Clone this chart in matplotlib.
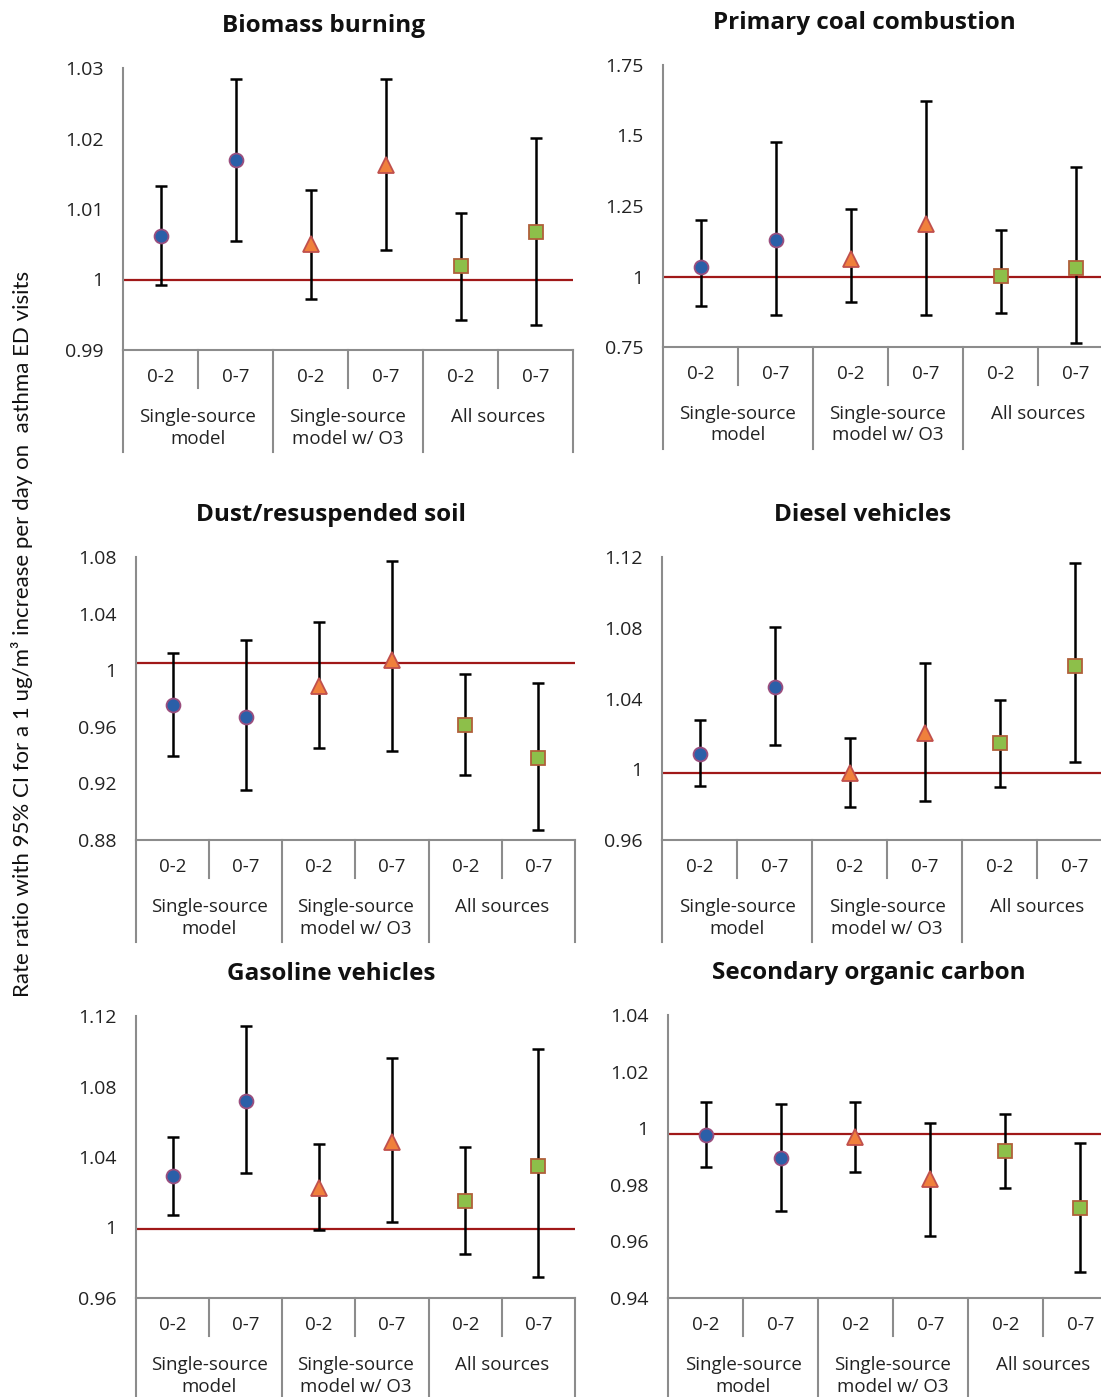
import numpy as np
import matplotlib
matplotlib.use("Agg")
import matplotlib.pyplot as plt

W, H = 1101, 1397
DPI = 100

plt.rcParams['font.family'] = ['Open Sans', 'DejaVu Sans']

titles = ["Biomass burning", "Primary coal combustion", "Dust/resuspended soil",
          "Diesel vehicles", "Gasoline vehicles", "Secondary organic carbon"]
lags = ["0-2", "0-7", "0-2", "0-7", "0-2", "0-7"]
groups = ["Single-source\nmodel", "Single-source\nmodel w/ O3", "All sources"]

# rate ratio and 95% CI, order: single 0-2, single 0-7, w/ O3 0-2, w/ O3 0-7, all 0-2, all 0-7
biomass_rr = [1.0062, 1.0169, 1.0050, 1.0162, 1.0019, 1.0068]
biomass_lo = [0.9992, 1.0054, 0.9973, 1.0042, 0.9943, 0.9936]
biomass_hi = [1.0132, 1.0285, 1.0127, 1.0285, 1.0095, 1.0201]

coal_rr = [1.035, 1.130, 1.062, 1.185, 1.003, 1.031]
coal_lo = [0.894, 0.865, 0.910, 0.863, 0.870, 0.764]
coal_hi = [1.199, 1.478, 1.241, 1.621, 1.165, 1.389]

dust_rr = [0.9755, 0.9666, 0.9885, 1.0074, 0.9614, 0.9383]
dust_lo = [0.9394, 0.9154, 0.9451, 0.9430, 0.9260, 0.8871]
dust_hi = [1.0125, 1.0210, 1.0338, 1.0774, 0.9975, 0.9913]

diesel_rr = [1.0089, 1.0464, 0.9980, 1.0206, 1.0146, 1.0585]
diesel_lo = [0.9907, 1.0137, 0.9788, 0.9822, 0.9897, 1.0040]
diesel_hi = [1.0281, 1.0805, 1.0178, 1.0598, 1.0394, 1.1168]

gasoline_rr = [1.0292, 1.0716, 1.0224, 1.0485, 1.0149, 1.0347]
gasoline_lo = [1.0069, 1.0309, 0.9984, 1.0031, 0.9848, 0.9719]
gasoline_hi = [1.0515, 1.1145, 1.0476, 1.0964, 1.0457, 1.1013]

soc_rr = [0.9975, 0.9893, 0.9970, 0.9820, 0.9919, 0.9717]
soc_lo = [0.9863, 0.9707, 0.9846, 0.9620, 0.9790, 0.9491]
soc_hi = [1.0093, 1.0086, 1.0093, 1.0020, 1.0049, 0.9947]

# y axis (min, max, step) and the reference line level per panel
y_ranges = [(0.99, 1.03, 0.01), (0.75, 1.75, 0.25), (0.88, 1.08, 0.04),
            (0.96, 1.12, 0.04), (0.96, 1.12, 0.04), (0.94, 1.04, 0.02)]
ref_lines = [1.0, 1.0, 1.005, 0.998, 0.999, 0.998]

panels = [
    (biomass_rr, biomass_lo, biomass_hi),
    (coal_rr, coal_lo, coal_hi),
    (dust_rr, dust_lo, dust_hi),
    (diesel_rr, diesel_lo, diesel_hi),
    (gasoline_rr, gasoline_lo, gasoline_hi),
    (soc_rr, soc_lo, soc_hi),
]

# plot boxes in pixels: left, top, width, height
boxes = [(123, 68, 450, 282), (663, 65, 450, 282),
         (136, 557, 439, 283), (662, 557, 450, 283),
         (136, 1016, 439, 282), (668, 1015, 450, 283)]

styles = [
    dict(marker='o', ms=10, mfc='#2b5fa8', mec='#9a4e7e'),
    dict(marker='o', ms=10, mfc='#2b5fa8', mec='#9a4e7e'),
    dict(marker='^', ms=11, mfc='#f0803c', mec='#c0504d'),
    dict(marker='^', ms=11, mfc='#f0803c', mec='#c0504d'),
    dict(marker='s', ms=10, mfc='#8dbf4a', mec='#b0603a'),
    dict(marker='s', ms=10, mfc='#8dbf4a', mec='#b0603a'),
]

GRAY = '#8c8c8c'
fig = plt.figure(figsize=(W / DPI, H / DPI), dpi=DPI)

for k, (l, t, w, h) in enumerate(boxes):
    rr, lo, hi = (np.array(a) for a in panels[k])
    ymin, ymax, step = y_ranges[k]
    ax = fig.add_axes([l / W, 1 - (t + h) / H, w / W, h / H])
    x = np.arange(6)

    ax.axhline(ref_lines[k], color='#a01818', lw=1.6, zorder=1)
    ax.errorbar(x, rr, yerr=[rr - lo, hi - rr], fmt='none', ecolor='black',
                elinewidth=1.8, capsize=4.5, capthick=1.8, zorder=2)
    for i in range(6):
        ax.plot(x[i], rr[i], ls='none', mew=1.3, zorder=3, **styles[i])

    ax.set_xlim(-0.5, 5.5)
    ax.set_ylim(ymin, ymax)
    ticks = np.arange(ymin, ymax + step / 2, step)
    ax.set_yticks(ticks)
    ax.set_yticklabels([f"{round(v, 3):g}" for v in ticks])
    ax.tick_params(axis='y', length=0, pad=14, labelsize=14, labelcolor='#222222')
    ax.set_xticks([])
    for s in ('top', 'right'):
        ax.spines[s].set_visible(False)
    for s in ('left', 'bottom'):
        ax.spines[s].set_color(GRAY)
        ax.spines[s].set_linewidth(1.5)

    # two-level category axis drawn below the plot
    tr = ax.get_xaxis_transform()
    short, long_ = 38 / h, 102 / h
    for b in range(7):
        depth = long_ if b % 2 == 0 else short
        ax.plot([b - 0.5, b - 0.5], [0, -depth], color=GRAY, lw=1.5,
                transform=tr, clip_on=False)
    for i, lab in enumerate(lags):
        ax.text(i, -27 / h, lab, transform=tr, ha='center', va='center',
                fontsize=13.5, color='#222222')
    for g, lab in enumerate(groups):
        ax.text(2 * g + 0.5, -58 / h, lab, transform=tr, ha='center', va='top',
                fontsize=13.5, color='#222222', linespacing=1.25)

    ax.text(0.5 - 24 / w, 1 + 42 / h, titles[k], transform=ax.transAxes,
            ha='center', va='center', fontsize=17.5, fontweight='bold', color='#111111')

fig.text(22 / W, 1 - 634 / H,
         "Rate ratio with 95% CI for a 1 ug/m³ increase per day on  asthma ED visits",
         rotation=90, ha='center', va='center', fontsize=16, family=['Lato', 'DejaVu Sans'],
         color='#111111')

fig.savefig("out.png", dpi=DPI)
